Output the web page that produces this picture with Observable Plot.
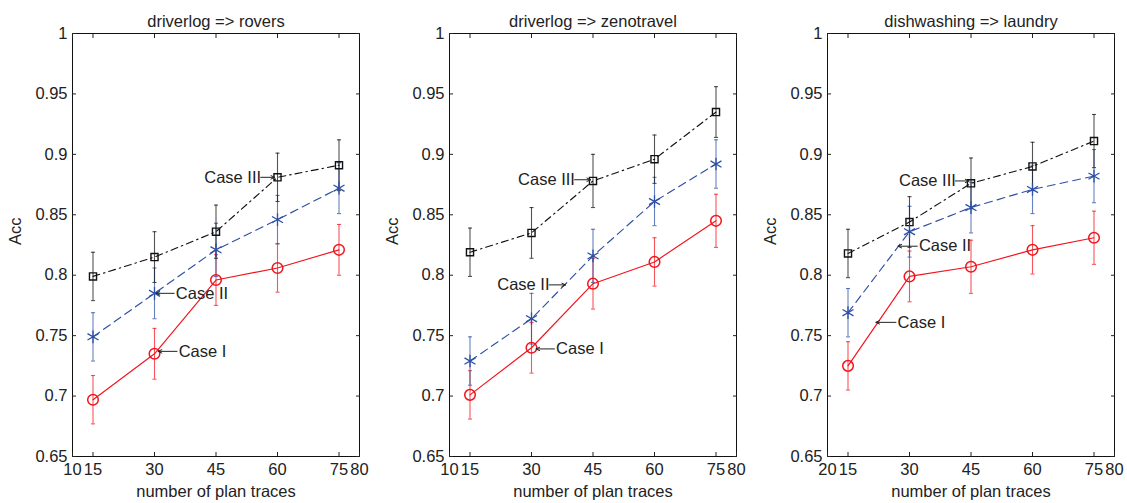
<!DOCTYPE html>
<html>
<head>
<meta charset="utf-8">
<script src="https://cdn.jsdelivr.net/npm/d3@7"></script>
<script src="https://cdn.jsdelivr.net/npm/@observablehq/plot@0.6"></script>
<style>
  html, body { margin: 0; padding: 0; background: #fff; overflow: hidden; }
  #wrap { position: relative; width: 1127px; height: 503px; }
  .pane { position: absolute; top: 0; }
</style>
</head>
<body>
<div id="wrap"></div>
<script>
// ---------- data ----------
const traces = [15, 30, 45, 60, 75];
const xTicks = [10, 15, 30, 45, 60, 75, 80];
const xTickLabelsA = ["10", "15", "30", "45", "60", "75", "80"];
const xTickLabelsC = ["20", "15", "30", "45", "60", "75", "80"];
const yTicks = [0.65, 0.7, 0.75, 0.8, 0.85, 0.9, 0.95, 1];
const yTickLabels = ["0.65", "0.7", "0.75", "0.8", "0.85", "0.9", "0.95", "1"];
const seriesNames = ["Case I", "Case II", "Case III"];
const titles = ["driverlog => rovers", "driverlog => zenotravel", "dishwashing => laundry"];
const xLabel = "number of plan traces";
const yLabel = "Acc";

// panel 1: driverlog => rovers
const roversCaseI   = [0.697, 0.735, 0.796, 0.806, 0.821];
const roversCaseII  = [0.749, 0.785, 0.821, 0.846, 0.872];
const roversCaseIII = [0.799, 0.815, 0.836, 0.881, 0.891];
const roversErrI    = [0.020, 0.021, 0.021, 0.020, 0.021];
const roversErrII   = [0.020, 0.021, 0.022, 0.020, 0.021];
const roversErrIII  = [0.020, 0.021, 0.022, 0.020, 0.021];

// panel 2: driverlog => zenotravel
const zenoCaseI   = [0.701, 0.740, 0.793, 0.811, 0.845];
const zenoCaseII  = [0.729, 0.764, 0.816, 0.861, 0.892];
const zenoCaseIII = [0.819, 0.835, 0.878, 0.896, 0.935];
const zenoErrI    = [0.020, 0.021, 0.021, 0.020, 0.022];
const zenoErrII   = [0.020, 0.021, 0.022, 0.020, 0.020];
const zenoErrIII  = [0.020, 0.021, 0.022, 0.020, 0.021];

// panel 3: dishwashing => laundry
const laundryCaseI   = [0.725, 0.799, 0.807, 0.821, 0.831];
const laundryCaseII  = [0.769, 0.836, 0.856, 0.871, 0.882];
const laundryCaseIII = [0.818, 0.844, 0.876, 0.890, 0.911];
const laundryErrI    = [0.020, 0.021, 0.022, 0.020, 0.022];
const laundryErrII   = [0.020, 0.021, 0.021, 0.020, 0.022];
const laundryErrIII  = [0.020, 0.021, 0.021, 0.020, 0.022];

// annotations: label text position (tx), arrow tail (x1) and tip (x2), at value y
const roversNotes = [
  {text: "Case III", anchor: "end",   tx: 56.0, x1: 55.9, x2: 59.3, y: 0.881},
  {text: "Case II",  anchor: "start", tx: 35.2, x1: 34.8, x2: 30.4, y: 0.785},
  {text: "Case I",   anchor: "start", tx: 35.9, x1: 35.5, x2: 30.9, y: 0.737}
];
const zenoNotes = [
  {text: "Case III", anchor: "end",   tx: 40.6, x1: 40.5, x2: 44.4, y: 0.879},
  {text: "Case II",  anchor: "end",   tx: 34.4, x1: 34.3, x2: 38.3, y: 0.792},
  {text: "Case I",   anchor: "start", tx: 36.0, x1: 35.6, x2: 31.1, y: 0.739}
];
const laundryNotes = [
  {text: "Case III", anchor: "end",   tx: 41.3, x1: 41.2, x2: 44.5, y: 0.878},
  {text: "Case II",  anchor: "start", tx: 32.3, x1: 31.9, x2: 27.2, y: 0.824},
  {text: "Case I",   anchor: "start", tx: 27.1, x1: 26.7, x2: 21.8, y: 0.761}
];

// ---------- drawing ----------
const colors = {"Case I": "#f2141c", "Case II": "#2d4fa5", "Case III": "#111111"};
const dashes = {"Case I": null, "Case II": "8,5", "Case III": "7,4,1.5,4"};
const FONT = "Liberation Sans, Arial, Helvetica, sans-serif";
const FS = 16.5;

function rows(vals, errs, name) {
  return traces.map((x, i) => ({series: name, x, y: vals[i], e: errs[i]}));
}

function panel(cfg) {
  const {title, caseI, caseII, caseIII, errI, errII, errIII, tickLabels, notes, left, marginLeft, marginRight, width} = cfg;
  const all = [
    ...rows(caseI, errI, "Case I"),
    ...rows(caseII, errII, "Case II"),
    ...rows(caseIII, errIII, "Case III")
  ];
  const ofSeries = s => all.filter(d => d.series === s);
  const marks = [];
  // error bars
  for (const s of seriesNames) {
    const d = ofSeries(s);
    const st = {stroke: colors[s], strokeOpacity: 0.72, strokeWidth: 1.1};
    marks.push(Plot.ruleX(d, {x: "x", y1: r => r.y - r.e, y2: r => r.y + r.e, ...st}));
    marks.push(Plot.link(d, {x1: r => r.x - 0.5, x2: r => r.x + 0.5, y1: r => r.y + r.e, y2: r => r.y + r.e, ...st}));
    marks.push(Plot.link(d, {x1: r => r.x - 0.5, x2: r => r.x + 0.5, y1: r => r.y - r.e, y2: r => r.y - r.e, ...st}));
  }
  // lines
  for (const s of ["Case III", "Case II", "Case I"]) {
    marks.push(Plot.line(ofSeries(s), {x: "x", y: "y", stroke: colors[s], strokeWidth: 1.15, strokeDasharray: dashes[s]}));
  }
  // markers
  marks.push(Plot.dot(ofSeries("Case III"), {x: "x", y: "y", symbol: "square", r: 4, stroke: colors["Case III"], strokeWidth: 1.4, fill: "none"}));
  marks.push(Plot.dot(ofSeries("Case II"), {x: "x", y: "y", symbol: "asterisk", r: 6, stroke: colors["Case II"], strokeWidth: 1.3}));
  marks.push(Plot.dot(ofSeries("Case I"), {x: "x", y: "y", symbol: "circle", r: 5.3, stroke: colors["Case I"], strokeWidth: 1.5, fill: "none"}));
  // annotations
  marks.push(Plot.arrow(notes, {x1: "x1", x2: "x2", y1: "y", y2: "y", stroke: "#222", strokeWidth: 1, headLength: 6, headAngle: 50}));
  for (const a of ["start", "end"]) {
    marks.push(Plot.text(notes.filter(n => n.anchor === a), {x: "tx", y: "y", text: "text", textAnchor: a, fill: "#222", fontSize: FS}));
  }
  // frame and axes (ticks inward)
  marks.push(Plot.frame({stroke: "#111", strokeWidth: 1}));
  marks.push(Plot.axisX(xTicks, {anchor: "bottom", tickSize: -4, tickPadding: 11, tickFormat: d => tickLabels[xTicks.indexOf(d)], label: null, fontSize: FS, fill: "#222"}));
  marks.push(Plot.axisX(xTicks, {anchor: "top", tickSize: -4, tickFormat: () => "", label: null}));
  marks.push(Plot.axisY(yTicks, {anchor: "left", tickSize: -4, tickPadding: 9, tickFormat: d => yTickLabels[yTicks.indexOf(d)], label: null, fontSize: FS, fill: "#222"}));
  marks.push(Plot.axisY(yTicks, {anchor: "right", tickSize: -4, tickFormat: () => "", label: null}));
  // axis titles and panel title
  marks.push(Plot.text([xLabel], {frameAnchor: "bottom", dy: 40, fontSize: FS, fill: "#222"}));
  marks.push(Plot.text([yLabel], {frameAnchor: "left", dx: -57, rotate: -90, fontSize: FS, fill: "#222"}));
  marks.push(Plot.text([title], {frameAnchor: "top", dy: -18, fontSize: FS, fill: "#222"}));

  const svg = Plot.plot({
    width, height: 503,
    marginLeft, marginRight, marginTop: 33, marginBottom: 47,
    x: {type: "linear", domain: [10, 80]},
    y: {type: "linear", domain: [0.65, 1]},
    style: {fontFamily: FONT, fontSize: FS + "px", background: "transparent", color: "#222", overflow: "visible"},
    marks
  });
  svg.classList.add("pane");
  svg.style.left = left + "px";
  document.getElementById("wrap").appendChild(svg);
}

panel({title: titles[0], caseI: roversCaseI, caseII: roversCaseII, caseIII: roversCaseIII,
  errI: roversErrI, errII: roversErrII, errIII: roversErrIII, tickLabels: xTickLabelsA,
  notes: roversNotes, left: 0, marginLeft: 72, marginRight: 17, width: 376});
panel({title: titles[1], caseI: zenoCaseI, caseII: zenoCaseII, caseIII: zenoCaseIII,
  errI: zenoErrI, errII: zenoErrII, errIII: zenoErrIII, tickLabels: xTickLabelsA,
  notes: zenoNotes, left: 377, marginLeft: 72, marginRight: 17, width: 376});
panel({title: titles[2], caseI: laundryCaseI, caseII: laundryCaseII, caseIII: laundryCaseIII,
  errI: laundryErrI, errII: laundryErrII, errIII: laundryErrIII, tickLabels: xTickLabelsC,
  notes: laundryNotes, left: 755, marginLeft: 72, marginRight: 17, width: 376});
</script>
</body>
</html>
